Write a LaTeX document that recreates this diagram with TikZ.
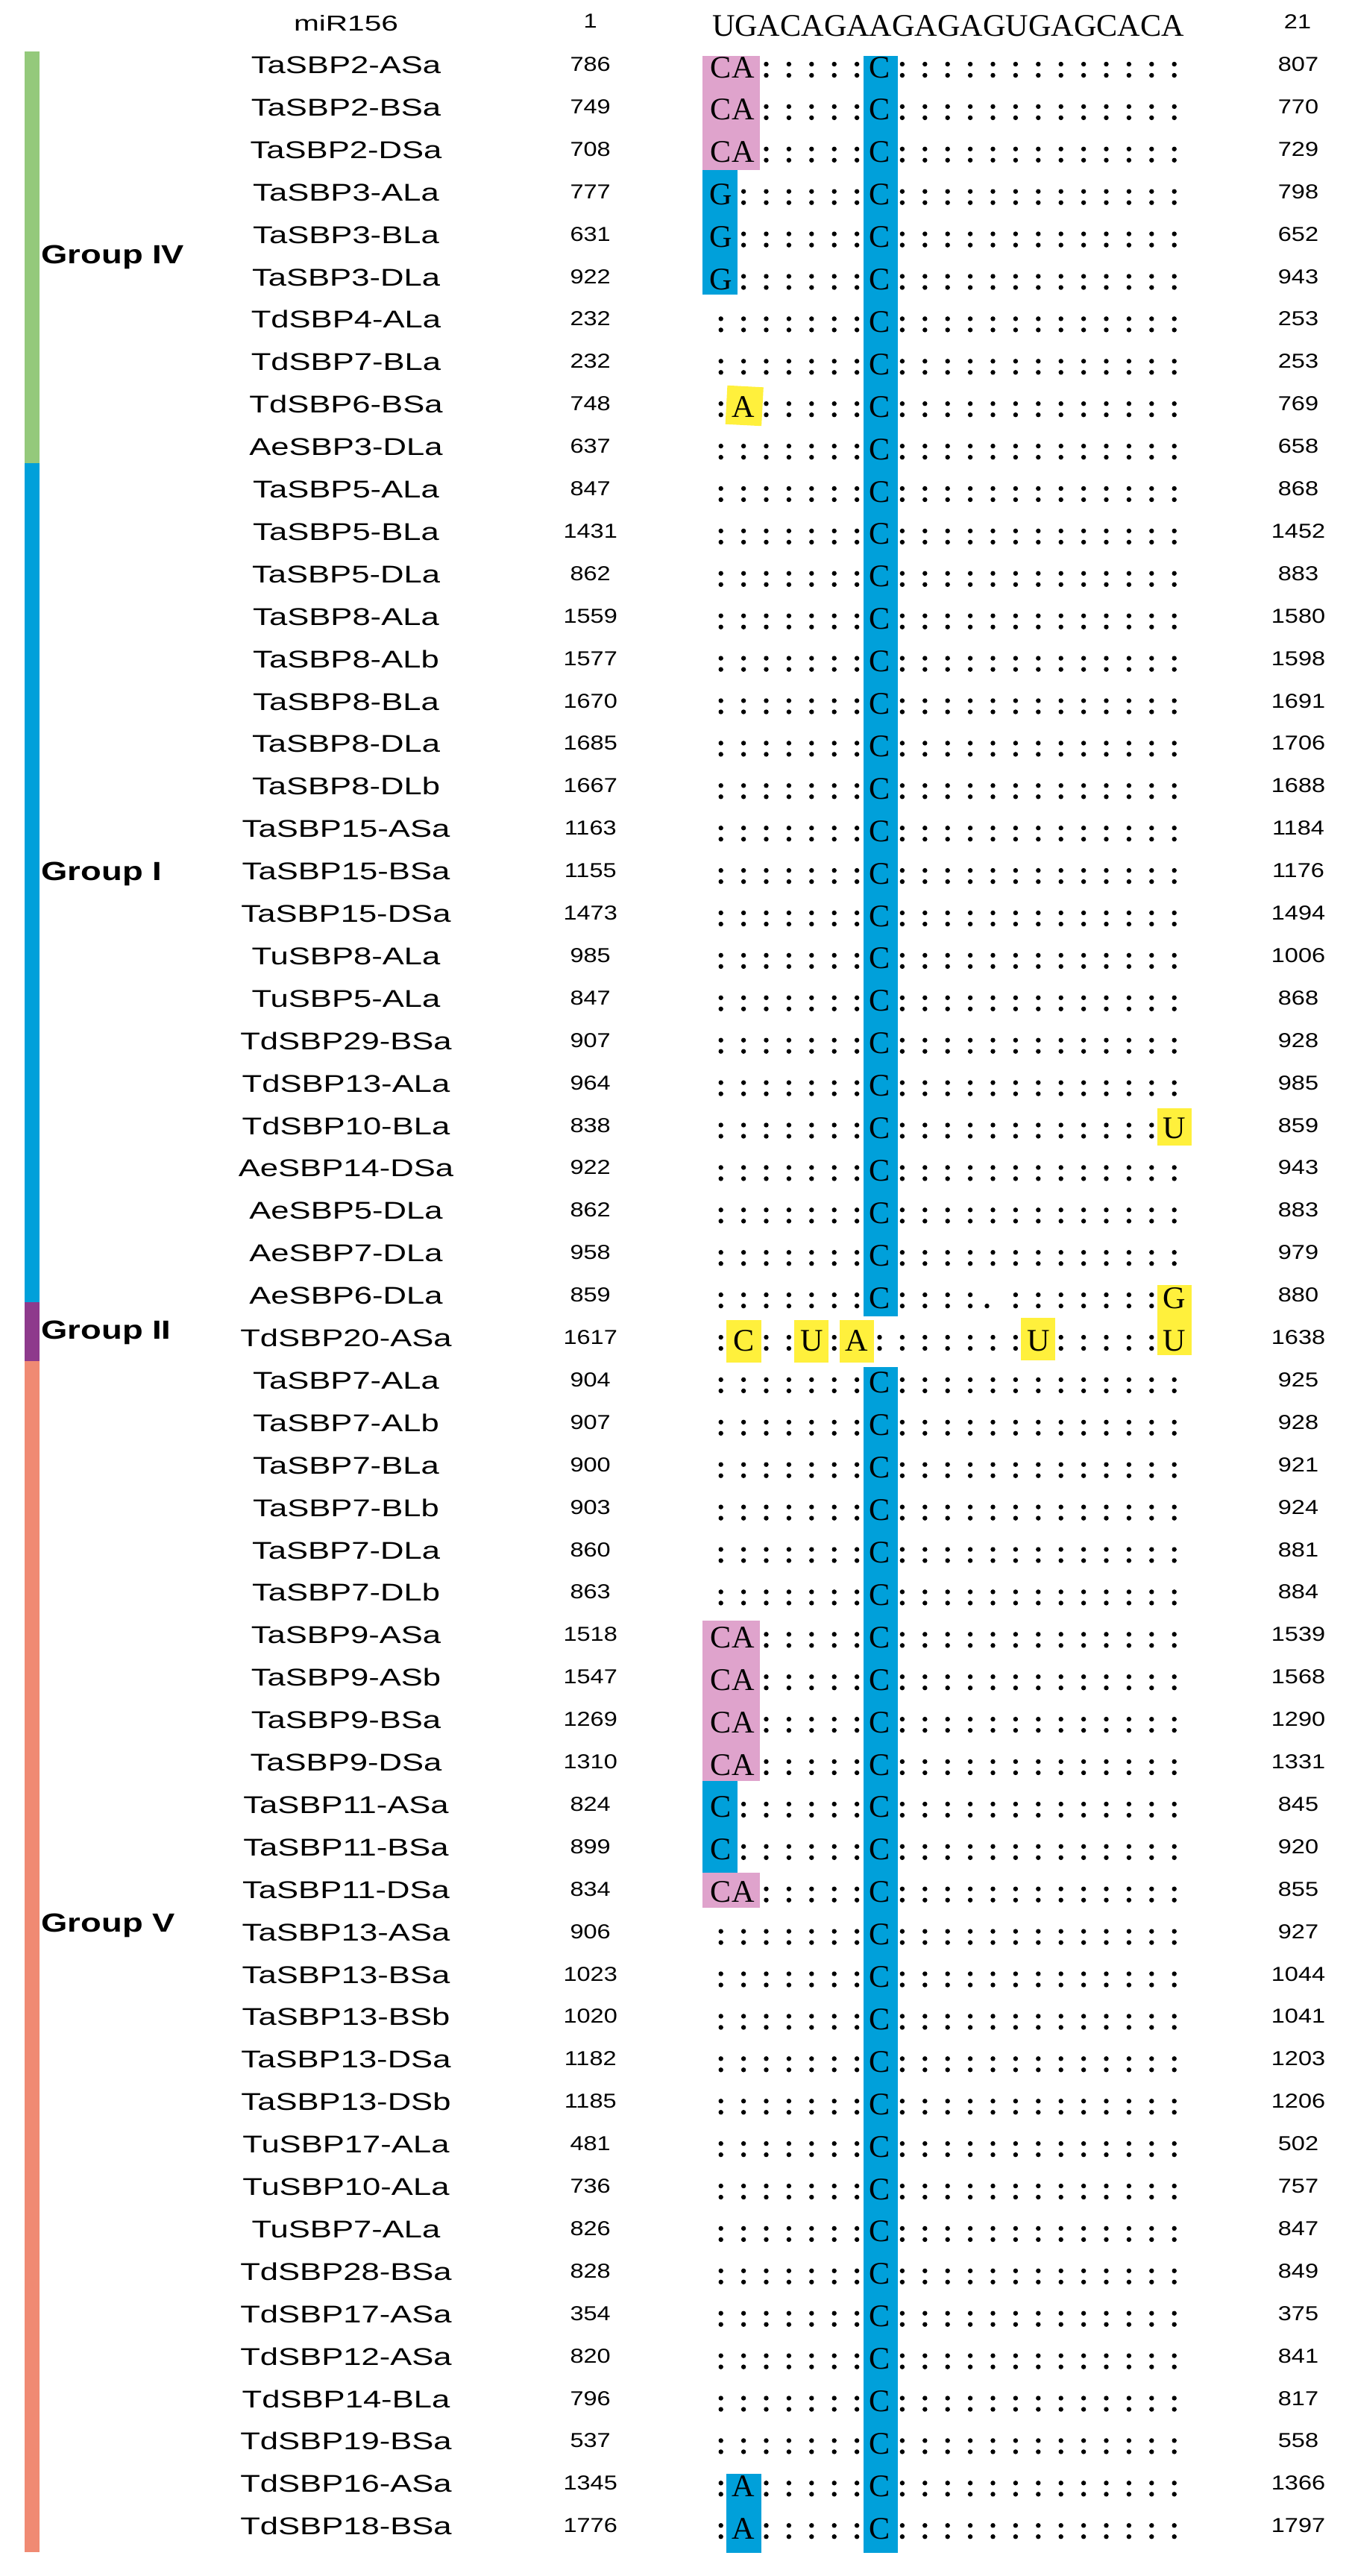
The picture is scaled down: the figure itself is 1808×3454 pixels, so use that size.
\documentclass[tikz,border=0pt]{standalone}
\usepackage{fontspec}
\usepackage{xstring}
\setmainfont{Liberation Serif}
\newfontfamily\labfont[FakeStretch=1.34]{Liberation Sans}
\newfontfamily\mirfont[FakeStretch=1.4]{Liberation Sans}
\newfontfamily\posfont[FakeStretch=1.2]{Liberation Sans}
\newfontfamily\grpfont[FakeStretch=1.29]{Liberation Sans}

\definecolor{hlpink}{RGB}{223,163,204}
\definecolor{hlblue}{RGB}{0,160,218}
\definecolor{hlyellow}{RGB}{255,240,60}
\definecolor{grpgreen}{RGB}{148,201,123}
\definecolor{grpblue}{RGB}{0,160,218}
\definecolor{grppurple}{RGB}{142,58,140}
\definecolor{grpsalmon}{RGB}{240,138,115}

% site patterns (: pair, . single, letter = mismatch/bulge)
\def\pstd{:::::::C:::::::::::::}
\def\pca{CA:::::C:::::::::::::}
\def\pg{G::::::C:::::::::::::}
\def\pc{C::::::C:::::::::::::}
\def\pa{:A:::::C:::::::::::::}

\tikzset{
  genelab/.style={font={\labfont\fontsize{9.25}{11}\selectfont},anchor=base},
  mirlab/.style={font={\mirfont\fontsize{8.25}{10}\selectfont},anchor=base},
  poslab/.style={font={\posfont\fontsize{7.7}{9}\selectfont},anchor=base},
  grplab/.style={font={\grpfont\bfseries\fontsize{10}{12}\selectfont},anchor=base west},
  nt/.style={font={\fontsize{12}{14}\selectfont},anchor=base},
  seqtop/.style={font={\fontsize{12}{14}\selectfont},anchor=base}
}

\begin{document}
\begin{tikzpicture}[x=0.01cm,y=-0.01cm,every node/.style={inner sep=0pt}]
  \useasboundingbox[fill=white] (0,0) rectangle (1808,3454);
  % group bars
  \fill[grpgreen] (33.3,69) rectangle (52.7,621);
  \fill[grpblue] (33.3,621) rectangle (52.7,1746);
  \fill[grppurple] (33.3,1746) rectangle (52.7,1825);
  \fill[grpsalmon] (33.3,1825) rectangle (52.7,3422);
  \node[grplab] (g4) at (55,353) {Group IV};
  \node[grplab] (g1) at (55,1180) {Group I};
  \node[grplab] (g2) at (55,1795) {Group II};
  \node[grplab] (g5) at (55,2590) {Group V};

  % highlights
  \fill[hlpink] (942,75) rectangle (1019,227.7);
  \fill[hlblue] (942,227.7) rectangle (988.5,395);
  \fill[hlblue] (1157.5,75) rectangle (1204,1765);
  \fill[hlblue] (1157.5,1833) rectangle (1204,3423);
  \fill[hlyellow,rotate around={-3:(998,544)}] (974,518) rectangle (1022.5,570);
  \fill[hlyellow] (1551.5,1486) rectangle (1598,1536);
  \fill[hlyellow] (1551.5,1723.3) rectangle (1598,1816.7);
  \fill[hlyellow] (974,1770) rectangle (1021,1826.7);
  \fill[hlyellow] (1065.3,1770) rectangle (1111.3,1826.7);
  \fill[hlyellow] (1126,1770) rectangle (1172,1826.7);
  \fill[hlyellow] (1369.3,1766.7) rectangle (1415.3,1824);
  \fill[hlpink] (942,2173.3) rectangle (1019,2387.7);
  \fill[hlblue] (942,2387.7) rectangle (988.5,2510.7);
  \fill[hlpink] (942,2511) rectangle (1019,2558.3);
  \fill[hlblue] (974,3316.7) rectangle (1021,3423.3);

  % miR156 line
  \node[mirlab] (mir) at (464,41.7) {miR156};
  \node[poslab] (mirfrom) at (791.7,37.5) {1};
  \node[seqtop] (mirseq) at (1271.5,48.3) {UGACAGAAGAGAGUGAGCACA};
  \node[poslab] (mirto) at (1740,38) {21};

  % target sites
  \foreach \row/\gene/\lpos/\rpos/\pat in {
    0/TaSBP2-ASa/786/807/\pca, 1/TaSBP2-BSa/749/770/\pca, 2/TaSBP2-DSa/708/729/\pca,
    3/TaSBP3-ALa/777/798/\pg, 4/TaSBP3-BLa/631/652/\pg, 5/TaSBP3-DLa/922/943/\pg,
    6/TdSBP4-ALa/232/253/\pstd, 7/TdSBP7-BLa/232/253/\pstd, 8/TdSBP6-BSa/748/769/\pa,
    9/AeSBP3-DLa/637/658/\pstd,
    10/TaSBP5-ALa/847/868/\pstd, 11/TaSBP5-BLa/1431/1452/\pstd, 12/TaSBP5-DLa/862/883/\pstd,
    13/TaSBP8-ALa/1559/1580/\pstd, 14/TaSBP8-ALb/1577/1598/\pstd, 15/TaSBP8-BLa/1670/1691/\pstd,
    16/TaSBP8-DLa/1685/1706/\pstd, 17/TaSBP8-DLb/1667/1688/\pstd, 18/TaSBP15-ASa/1163/1184/\pstd,
    19/TaSBP15-BSa/1155/1176/\pstd, 20/TaSBP15-DSa/1473/1494/\pstd, 21/TuSBP8-ALa/985/1006/\pstd,
    22/TuSBP5-ALa/847/868/\pstd, 23/TdSBP29-BSa/907/928/\pstd, 24/TdSBP13-ALa/964/985/\pstd,
    25/TdSBP10-BLa/838/859/:::::::C::::::::::::U, 26/AeSBP14-DSa/922/943/\pstd,
    27/AeSBP5-DLa/862/883/\pstd, 28/AeSBP7-DLa/958/979/\pstd,
    29/AeSBP6-DLa/859/880/:::::::C::::.:::::::G,
    30/TdSBP20-ASa/1617/1638/:C::U:A:::::::U:::::U,
    31/TaSBP7-ALa/904/925/\pstd, 32/TaSBP7-ALb/907/928/\pstd, 33/TaSBP7-BLa/900/921/\pstd,
    34/TaSBP7-BLb/903/924/\pstd, 35/TaSBP7-DLa/860/881/\pstd, 36/TaSBP7-DLb/863/884/\pstd,
    37/TaSBP9-ASa/1518/1539/\pca, 38/TaSBP9-ASb/1547/1568/\pca, 39/TaSBP9-BSa/1269/1290/\pca,
    40/TaSBP9-DSa/1310/1331/\pca, 41/TaSBP11-ASa/824/845/\pc, 42/TaSBP11-BSa/899/920/\pc,
    43/TaSBP11-DSa/834/855/\pca, 44/TaSBP13-ASa/906/927/\pstd, 45/TaSBP13-BSa/1023/1044/\pstd,
    46/TaSBP13-BSb/1020/1041/\pstd, 47/TaSBP13-DSa/1182/1203/\pstd, 48/TaSBP13-DSb/1185/1206/\pstd,
    49/TuSBP17-ALa/481/502/\pstd, 50/TuSBP10-ALa/736/757/\pstd, 51/TuSBP7-ALa/826/847/\pstd,
    52/TdSBP28-BSa/828/849/\pstd, 53/TdSBP17-ASa/354/375/\pstd, 54/TdSBP12-ASa/820/841/\pstd,
    55/TdSBP14-BLa/796/817/\pstd, 56/TdSBP19-BSa/537/558/\pstd, 57/TdSBP16-ASa/1345/1366/\pa,
    58/TdSBP18-BSa/1776/1797/\pa} {
    \pgfmathsetmacro\y{87+56.9*\row}
    \node[genelab] (lab\row) at (464,\y+11.5) {\gene};
    \node[poslab] (from\row) at (791.7,\y+8.5) {\lpos};
    \node[poslab] (to\row) at (1741,\y+8.5) {\rpos};
    \foreach \col in {1,...,21} {
      \pgfmathsetmacro\x{936.3+30.4*\col}
      \StrChar{\pat}{\col}[\cur]
      \IfStrEq{\cur}{:}{\fill (\x,\y-1) circle (0.032cm) (\x,\y+14) circle (0.032cm);}
        {\IfStrEq{\cur}{.}{\fill (\x-8,\y+14) circle (0.032cm);}
          {\node[nt] (b\row-\col) at (\x,\y+17) {\cur};}}
    }
  }
\end{tikzpicture}
\end{document}
